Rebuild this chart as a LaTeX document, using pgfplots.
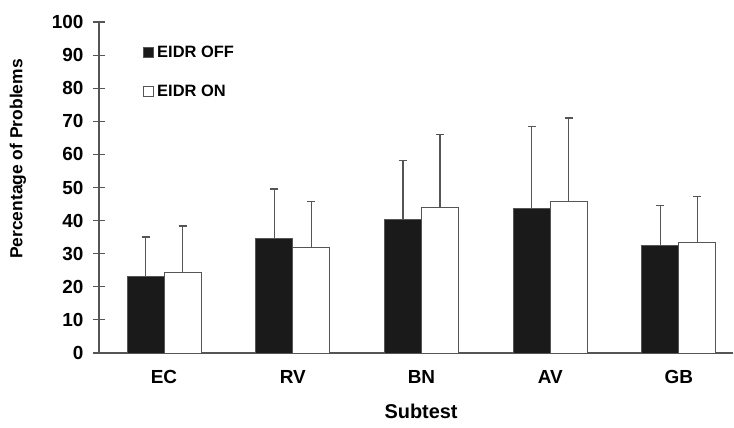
\documentclass[border=0pt]{standalone}
\usepackage{fontspec}
\setmainfont{Liberation Sans}
\usepackage{pgfplots}
\pgfplotsset{compat=1.18}
\usepackage{pgfplotstable}
\definecolor{axisgray}{HTML}{555555}
\definecolor{barblack}{HTML}{1A1A1A}
\pgfplotstableread{
x y err
0 23.2 11.8
1 34.6 15.0
2 40.3 17.9
3 43.6 24.9
4 32.5 12.0
}\off
\pgfplotstableread{
x y err
0 24.3 14.0
1 31.8 14.0
2 44.0 22.0
3 45.8 25.2
4 33.3 14.0
}\on
\begin{document}
\begin{tikzpicture}
\begin{axis}[
  scale only axis,
  width=634bp, height=331bp,
  ybar=0pt, bar width=37bp,
  xmin=-0.505, xmax=4.42,
  ymin=0, ymax=100,
  ytick={0,10,...,100},
  xtick=data,
  xticklabels={EC,RV,BN,AV,GB},
  axis x line=bottom, axis y line=left,
  axis line style={axisgray, line width=1.2pt, -},
  x tick style={draw=none},
  y tick style={axisgray, line width=1.2pt},
  major tick length=12bp,
  ytick align=center,
  tick label style={font=\bfseries\fontsize{19}{19}\selectfont},
  /pgf/number format/assume math mode=true,
  yticklabel style={xshift=-6bp},
  xticklabel style={yshift=-8bp},
  ylabel={\bfseries Percentage of Problems},
  ylabel style={font=\fontsize{17.5}{17.5}\selectfont, at={(axis description cs:-0.128,0.586)}, anchor=center},
  xlabel={\bfseries Subtest},
  xlabel style={font=\fontsize{20}{20}\selectfont, at={(axis description cs:0.508,-0.175)}, anchor=center},
  legend style={draw=none, fill=none, at={(0.069,0.935)}, anchor=north west,
    font=\bfseries\fontsize{16.5}{16.5}\selectfont, row sep=22bp, inner sep=0pt,
    nodes={inner xsep=4bp}},
  legend cell align=left,
  legend image code/.code={\draw[#1, line width=0.7pt] (0bp,-4.8bp) rectangle (9.6bp,4.8bp);},
  error bars/error bar style={axisgray, line width=1.2pt},
  error bars/error mark options={rotate=90, mark size=4bp, line width=1.5pt, axisgray},
  clip=false,
]
\addplot[fill=barblack, draw=axisgray, line width=0.9pt,
  error bars/.cd, y dir=plus, y explicit] table[x=x, y=y, y error=err] {\off};
\addplot[fill=white, draw=axisgray, line width=0.9pt,
  error bars/.cd, y dir=plus, y explicit] table[x=x, y=y, y error=err] {\on};
\legend{EIDR OFF, EIDR ON}
\end{axis}
\useasboundingbox ([xshift=-99bp, yshift=-75bp]current axis.south west) rectangle ([xshift=1bp, yshift=22bp]current axis.north east);
\end{tikzpicture}
\end{document}
